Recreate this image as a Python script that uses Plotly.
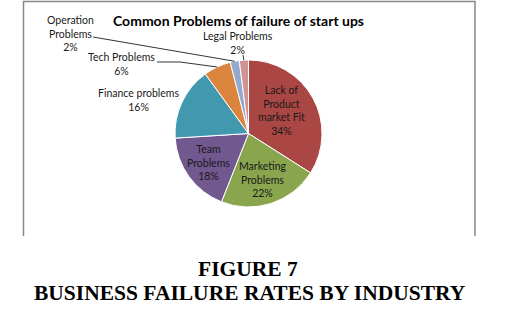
import math
import plotly.graph_objects as go

# ---- data ----
categories = ["Lack of Product market Fit", "Marketing Problems", "Team Problems",
              "Finance problems", "Tech Problems", "Operation Problems", "Legal Problems"]
values = [34, 22, 18, 16, 6, 2, 2]
label_text = ["Lack of<br>Product<br>market Fit<br>34%",
              "Marketing<br>Problems<br>22%",
              "Team<br>Problems<br>18%",
              "Finance problems<br>16%",
              "Tech Problems<br>6%",
              "Operation<br>Problems<br>2%",
              "Legal Problems<br>2%"]
colors = ["#AA4643", "#89A54E", "#71588F", "#4198AF", "#DB843D", "#93A9CF", "#D19392"]
title = "Common Problems of failure of start ups"
caption1 = "FIGURE 7"
caption2 = "BUSINESS FAILURE RATES BY INDUSTRY"

W, H = 514, 328
cx, cy, R = 248.5, 133.5, 73.5  # pie centre / radius in px

def px(x):
    return x / W

def py(y):
    return 1 - y / H

fig = go.Figure(go.Pie(
    labels=categories, values=values, sort=False, direction="clockwise", rotation=0,
    marker=dict(colors=colors, line=dict(color="white", width=1)),
    textinfo="none", hoverinfo="label+percent", showlegend=False,
    domain=dict(x=[px(cx - R), px(cx + R)], y=[py(cy + R), py(cy - R)]),
))

# label positions (px, layout only)
label_pos = [(281, 110), (263, 179), (208, 162), (139, 100), (121, 64), (70, 34), (238, 43)]
annotations = []
for t, (x, y) in zip(label_text, label_pos):
    annotations.append(dict(text=t, x=px(x), y=py(y), xref="paper", yref="paper",
                            showarrow=False, xanchor="center", yanchor="middle",
                            font=dict(family="Lato", size=10.5, color="#1a1a1a")))
annotations.append(dict(text="<b>" + title + "</b>", x=px(238), y=py(20), xref="paper", yref="paper",
                        showarrow=False, xanchor="center", yanchor="middle",
                        font=dict(family="Lato", size=14, color="black")))
annotations.append(dict(text="<b>" + caption1 + "</b>", x=px(248), y=py(269), xref="paper", yref="paper",
                        showarrow=False, xanchor="center", yanchor="middle",
                        font=dict(family="Liberation Serif", size=21.5, color="black")))
annotations.append(dict(text="<b>" + caption2 + "</b>", x=px(249.5), y=py(293), xref="paper", yref="paper",
                        showarrow=False, xanchor="center", yanchor="middle",
                        font=dict(family="Liberation Serif", size=21.5, color="black")))

# leader lines to slice mid-angles
total = sum(values)
cum = 0
mids = []
for v in values:
    mids.append((cum + v / 2) / total * 2 * math.pi)
    cum += v

def edge(i):
    a = mids[i]
    return cx + R * math.sin(a), cy - R * math.cos(a)

shapes = []
def line_path(points):
    d = "M " + " L ".join(f"{px(x)},{py(y)}" for x, y in points)
    return dict(type="path", path=d, xref="paper", yref="paper",
                line=dict(color="black", width=0.8))

shapes.append(line_path([(93, 37), edge(5)]))
shapes.append(line_path([(157, 62), (180, 62), edge(4)]))
shapes.append(line_path([(243, 55), edge(6)]))

# chart area border (left, top, right)
shapes.append(dict(type="path", xref="paper", yref="paper",
                   path=f"M {px(23.5)},{py(236)} L {px(23.5)},{py(1.5)} L {px(475)},{py(1.5)} L {px(475)},{py(236)}",
                   line=dict(color="#888888", width=1.5)))

fig.update_layout(width=W, height=H, margin=dict(l=0, r=0, t=0, b=0),
                  paper_bgcolor="white", plot_bgcolor="white",
                  annotations=annotations, shapes=shapes)
fig.write_html("out.html")
